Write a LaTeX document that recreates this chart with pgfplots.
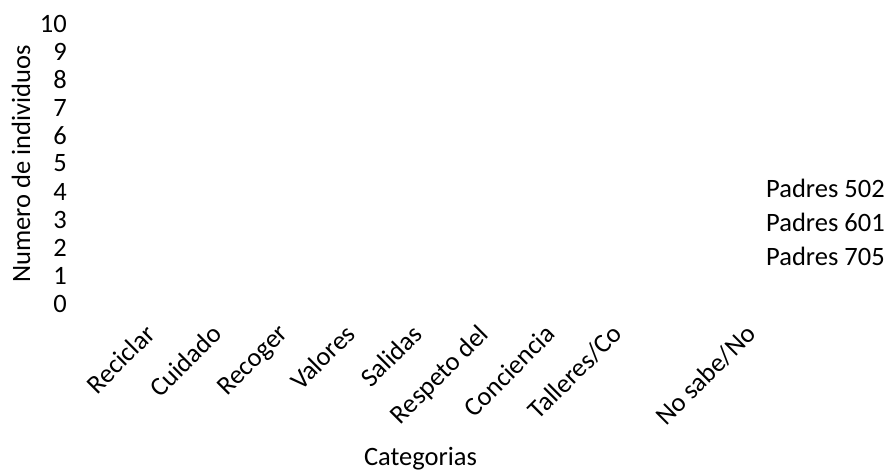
\documentclass[border=0pt]{standalone}
\usepackage{pgfplots}
\pgfplotsset{compat=1.18}
\usepackage{fontspec}
\setmainfont{Carlito}
\newcommand{\cf}{\fontsize{26.5}{32}\selectfont}
\begin{document}
\begin{tikzpicture}
\path[use as bounding box] (-87pt,-167.5pt) rectangle (802pt,303.5pt);
\begin{axis}[
  at={(0pt,0pt)}, anchor=south west,
  scale only axis, width=667pt, height=280pt,
  xmin=-0.5, xmax=9.5, ymin=0, ymax=10,
  enlargelimits=false,
  axis line style={draw=none}, tick style={draw=none}, major tick length=0pt,
  ytick={0,1,...,10},
  xtick={0,...,9},
  xticklabels={Reciclar,Cuidado,Recoger,Valores,Salidas,Respeto del,Conciencia,Talleres/Co,,No sabe/No},
  /pgf/number format/assume math mode=true,
  tick label style={font=\cf},
  label style={font=\cf},
  yticklabel style={anchor=east, inner sep=0pt, xshift=-20pt},
  xticklabel style={rotate=45, anchor=north east, inner sep=0pt, yshift=-30pt, xshift=3pt},
  xlabel={Categorias},
  xlabel style={at={(axis description cs:0.5,0)}, anchor=center, yshift=-155.5pt},
  ylabel={Numero de individuos},
  ylabel style={at={(axis description cs:-0.099,0.498)}, anchor=center},
  legend style={draw=none, fill=none, inner sep=0pt, font=\cf,
    at={(axis description cs:1.018,0.452)}, anchor=north west, row sep=14pt,
    nodes={inner sep=0pt, text height=20pt, text depth=0pt}},
  legend cell align=left,
  legend image code/.code={},
]
\addplot[ybar, draw=none, fill=none] coordinates {(0,0) (1,0) (2,0) (3,0) (4,0) (5,0) (6,0) (7,0) (8,0) (9,0)};
\addlegendentry{Padres 502}
\addplot[ybar, draw=none, fill=none] coordinates {(0,0) (1,0) (2,0) (3,0) (4,0) (5,0) (6,0) (7,0) (8,0) (9,0)};
\addlegendentry{Padres 601}
\addplot[ybar, draw=none, fill=none] coordinates {(0,0) (1,0) (2,0) (3,0) (4,0) (5,0) (6,0) (7,0) (8,0) (9,0)};
\addlegendentry{Padres 705}
\end{axis}
\end{tikzpicture}
\end{document}
